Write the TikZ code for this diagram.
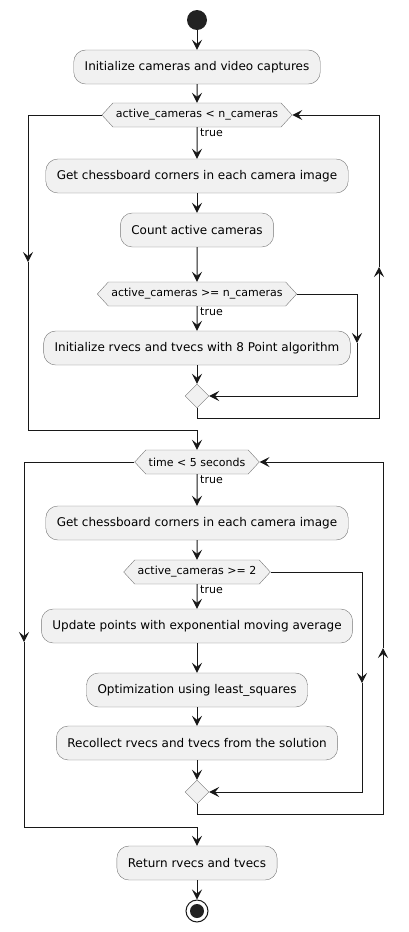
\documentclass[tikz,border=0pt]{standalone}
\usepackage{fontspec}
\setmainfont{DejaVu Sans}
\usetikzlibrary{arrows.meta,shapes.geometric,shapes.symbols}
\definecolor{boxfill}{HTML}{F1F1F1}
\definecolor{boxline}{HTML}{777777}
\definecolor{ink}{HTML}{181818}
\definecolor{dot}{HTML}{222222}

\begin{document}
\begin{tikzpicture}[x=1pt, y=-1pt,
  action/.style={draw=boxline, fill=boxfill, rounded corners=12pt, minimum height=34pt, inner xsep=11pt, font=\fontsize{12}{14}\selectfont},
  test/.style={signal, signal to=west and east, signal pointer angle=95, draw=boxline, fill=boxfill, minimum height=24pt, inner xsep=3pt, inner ysep=0pt, font=\fontsize{11}{13}\selectfont},
  merge/.style={diamond, draw=boxline, fill=boxfill, minimum size=24pt, inner sep=0pt},
  flow/.style={draw=ink, line width=1pt, -{Stealth[length=10pt,width=10pt,inset=4pt]}},
  guard/.style={anchor=north west, inner sep=1pt, font=\fontsize{11}{13}\selectfont}]
  \useasboundingbox (0,0) rectangle (408,932);

  % Start and setup
  \node[circle, fill=dot, minimum size=20pt, inner sep=0pt] (start) at (197,20) {};
  \node[action] (init) at (197,67) {Initialize cameras and video captures};
  \draw[flow] (start) -- (init);

  % First loop: wait for cameras
  \node[test] (waitcams) at (197,115) {active\_cameras < n\_cameras};
  \node[action] (corners1) at (197,176) {Get chessboard corners in each camera image};
  \node[action] (count) at (197,230) {Count active cameras};
  \node[test] (enough) at (197,294) {active\_cameras >= n\_cameras};
  \node[action] (eightpt) at (197,348) {Initialize rvecs and tvecs with 8 Point algorithm};
  \node[merge] (join1) at (197,396) {};
  \node[guard] at ([xshift=2pt]waitcams.south) {true};
  \node[guard] at ([xshift=2pt]enough.south) {true};
  \draw[flow] (init) -- (waitcams);
  \draw[flow] (waitcams) -- (corners1);
  \draw[flow] (corners1) -- (count);
  \draw[flow] (count) -- (enough);
  \draw[flow] (enough) -- (eightpt);
  \draw[flow] (eightpt) -- (join1);

  % skip branch and loop back
  \coordinate (skip1) at (357,343);
  \coordinate (back1) at (379,267);
  \coordinate (exit1) at (28,262);
  \draw[flow] (enough.east) -| (skip1);
  \draw[flow] (skip1) |- (join1.east);
  \draw[flow] (join1.south) -- ++(0,10) -| (back1);
  \draw[flow] (back1) |- (waitcams.east);

  % Second loop: refine for 5 seconds
  \node[test] (timer) at (197,462) {time < 5 seconds};
  \node[action] (corners2) at (197,523) {Get chessboard corners in each camera image};
  \node[test] (twocams) at (197,572) {active\_cameras >= 2};
  \node[action] (ema) at (197,626) {Update points with exponential moving average};
  \node[action] (optim) at (197,690) {Optimization using least\_squares};
  \node[action] (recollect) at (197,743) {Recollect rvecs and tvecs from the solution};
  \node[merge] (join2) at (197,792) {};
  \node[guard] at ([xshift=2pt]timer.south) {true};
  \node[guard] at ([xshift=2pt]twocams.south) {true};
  \draw[flow] (exit1) -- ++(0,168) -| (timer.north);
  \draw[flow] (waitcams.west) -| (exit1);
  \draw[flow] (timer) -- (corners2);
  \draw[flow] (corners2) -- (twocams);
  \draw[flow] (twocams) -- (ema);
  \draw[flow] (ema) -- (optim);
  \draw[flow] (optim) -- (recollect);
  \draw[flow] (recollect) -- (join2);

  % skip branch and loop back
  \coordinate (skip2) at (362,683);
  \coordinate (back2) at (383,648);
  \coordinate (exit2) at (24,642);
  \draw[flow] (twocams.east) -| (skip2);
  \draw[flow] (skip2) |- (join2.east);
  \draw[flow] (join2.south) -- ++(0,10) -| (back2);
  \draw[flow] (back2) |- (timer.east);
  \draw[flow] (timer.west) -| (exit2);

  % Result and end
  \node[action] (result) at (197,863) {Return rvecs and tvecs};
  \node[circle, draw=ink, line width=1pt, fill=white, minimum size=22pt, inner sep=0pt] (stop) at (197,911) {};
  \fill[dot] (stop) circle (7pt);
  \draw[flow] (exit2) -- ++(0,185) -| (result.north);
  \draw[flow] (result) -- (stop);
\end{tikzpicture}
\end{document}
